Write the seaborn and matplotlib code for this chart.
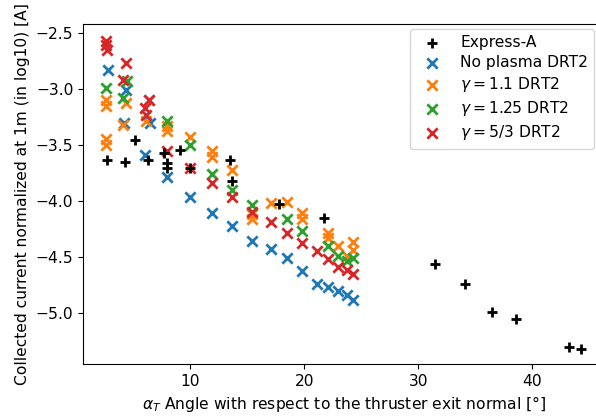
import seaborn as sns
import matplotlib.pyplot as plt
import pandas as pd

# Express-A flight data
express_x = [2.7, 4.3, 5.2, 6.3, 7.7, 8.0, 8.0, 9.15, 10.0, 13.5, 13.7, 17.8, 21.7,
             31.5, 34.15, 36.5, 38.55, 43.2, 44.3]
express_y = [-3.64, -3.65, -3.46, -3.64, -3.57, -3.66, -3.71, -3.55, -3.71, -3.64, -3.82,
             -4.03, -4.15, -4.565, -4.74, -4.99, -5.06, -5.31, -5.32]

# DRT2 simulations
noplasma_x = [2.8, 4.4, 4.2, 6.45, 6.0, 8.0, 10.0, 11.9, 13.7, 15.45, 17.06, 18.5,
              19.85, 21.1, 22.1, 23.0, 23.8, 24.3]
noplasma_y = [-2.83, -3.01, -3.31, -3.31, -3.59, -3.79, -3.97, -4.11, -4.23, -4.36, -4.43,
              -4.51, -4.63, -4.74, -4.77, -4.81, -4.84, -4.89]

g11_x = [2.6, 2.6, 2.6, 2.6, 4.4, 4.1, 6.1, 6.4, 8.0, 8.0, 10.0, 11.9, 11.9, 13.7,
         15.45, 15.45, 17.06, 18.53, 19.85, 19.85, 22.1, 22.1, 23.0, 23.8, 24.3, 24.3]
g11_y = [-3.1, -3.15, -3.45, -3.5, -3.13, -3.32, -3.29, -3.1, -3.33, -3.38, -3.43, -3.56,
         -3.61, -3.73, -4.12, -4.16, -4.02, -4.01, -4.11, -4.16, -4.29, -4.33, -4.4, -4.49,
         -4.37, -4.44]

g125_x = [2.6, 4.5, 4.1, 8.0, 10.0, 11.9, 13.7, 15.45, 18.53, 19.85, 22.1, 23.0, 23.8, 24.3]
g125_y = [-2.99, -2.93, -3.08, -3.29, -3.5, -3.76, -3.9, -4.04, -4.16, -4.27, -4.4, -4.49,
          -4.54, -4.51]

g53_x = [2.6, 2.6, 2.7, 4.4, 4.1, 6.4, 6.0, 6.1, 8.0, 10.0, 11.9, 13.7, 15.45, 17.06,
         18.53, 19.85, 21.1, 22.1, 23.0, 23.8, 24.3]
g53_y = [-2.57, -2.61, -2.65, -2.77, -2.92, -3.1, -3.17, -3.23, -3.56, -3.71, -3.84, -3.97,
         -4.1, -4.19, -4.29, -4.38, -4.45, -4.52, -4.59, -4.62, -4.65]

series = [
    ("No plasma DRT2", noplasma_x, noplasma_y, "#1f77b4"),
    (r"$\gamma = 1.1$ DRT2", g11_x, g11_y, "#ff7f0e"),
    (r"$\gamma = 1.25$ DRT2", g125_x, g125_y, "#2ca02c"),
    (r"$\gamma = 5/3$ DRT2", g53_x, g53_y, "#d62728"),
]

plt.rcParams["font.size"] = 11.2

fig = plt.figure(figsize=(5.96, 4.17), dpi=100)
# right edge sits past the figure border, like the cropped original
ax = fig.add_axes([0.1393, 0.1271, 0.876, 0.8153])

sns.scatterplot(x=express_x, y=express_y, marker="+", color="black", s=55,
                linewidth=2, label="Express-A", zorder=3, ax=ax)
for name, xs, ys, col in series:
    sns.scatterplot(x=xs, y=ys, marker="x", color=col, s=55, linewidth=2,
                    label=name, ax=ax)

ax.set_xlim(0.6, 46.4)
ax.set_ylim(-5.458, -2.422)
ax.set_xticks([10, 20, 30, 40])
ax.set_yticks([-2.5, -3.0, -3.5, -4.0, -4.5, -5.0])
ax.set_xlabel(r"$\alpha_T$ Angle with respect to the thruster exit normal [°]")
ax.set_ylabel("Collected current normalized at 1m (in log10) [A]")
ax.legend(loc="upper right", bbox_to_anchor=(0.988, 1.0), fontsize=11.2,
          labelspacing=0.33, borderaxespad=0.3)

fig.savefig("out.png", dpi=100)
